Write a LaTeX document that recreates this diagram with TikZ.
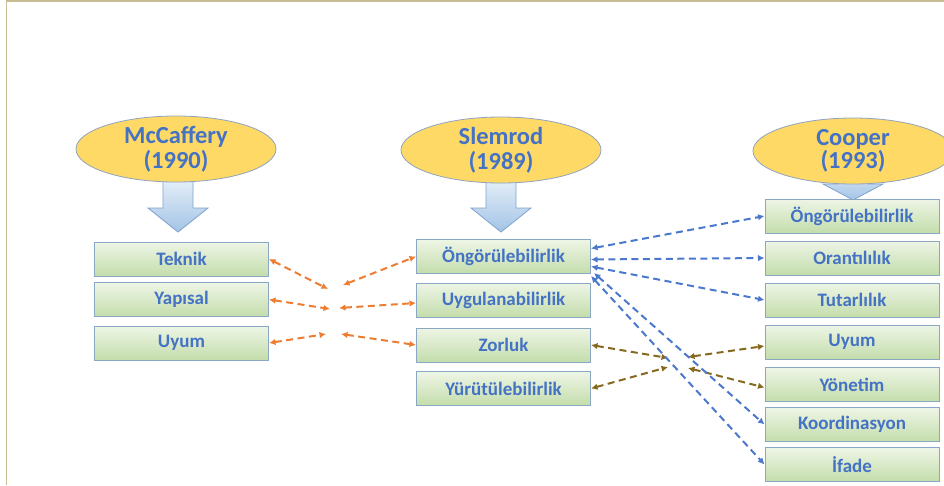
\documentclass[tikz,border=0pt]{standalone}
\usepackage{fontspec}
\setmainfont{Carlito}
\usetikzlibrary{shapes.geometric,arrows.meta}
\definecolor{txtblue}{HTML}{4472C4}
\definecolor{gold}{HTML}{FFD966}
\definecolor{ovaledge}{HTML}{8FA3BF}
\definecolor{boxtop}{HTML}{EEF5E6}
\definecolor{boxbot}{HTML}{C3DDAB}
\definecolor{boxedge}{HTML}{8AA7C4}
\definecolor{arrtop}{HTML}{E4EEF8}
\definecolor{arrbot}{HTML}{A3C4E6}
\definecolor{arredge}{HTML}{7EA3CC}
\definecolor{framecol}{HTML}{C9BD95}
\definecolor{lnorange}{HTML}{ED7D31}
\definecolor{lnblue}{HTML}{4A78CC}
\definecolor{lnbrown}{HTML}{86691E}
% wide block arrow under an author: x, top, start of head, tip
\newcommand{\blockarrow}[4]{\shade[top color=arrtop,bottom color=arrbot,draw=arredge,line width=0.8pt]
  (#1-15,#2) -- (#1+15,#2) -- (#1+15,#3) -- (#1+30,#3) -- (#1,#4) -- (#1-30,#3) -- (#1-15,#3) -- cycle;}

\begin{document}
\begin{tikzpicture}[x=1pt,y=-1pt,>={Latex[length=6.5pt,width=6.5pt]}]
\tikzstyle{author}=[ellipse,fill=gold,draw=ovaledge,line width=0.8pt,minimum width=200pt,
    minimum height=66pt,inner sep=0pt,align=center,text=txtblue,font=\bfseries\fontsize{24.5}{25}\selectfont]
\tikzstyle{crit}=[rectangle,draw=boxedge,line width=1pt,top color=boxtop,bottom color=boxbot,
    minimum width=174pt,minimum height=34pt,inner sep=0pt,text=txtblue,font=\bfseries\fontsize{19}{22}\selectfont]
\tikzstyle{link}=[<->,dash pattern=on 7pt off 4.5pt,line width=2pt]

\clip (0,0) rectangle (944,485);
\draw[framecol,line width=1.5pt] (6.5,485) -- (6.5,1) -- (944,1);

\blockarrow{178}{180}{208}{232}
\blockarrow{501}{180}{208}{232}
\blockarrow{853}{165}{184}{200}

% authors
\node[author] (mcc) at (176,149) {McCaffery\\(1990)};
\node[author] (slem) at (501,150) {Slemrod\\(1989)};
\node[author,font=\bfseries\fontsize{24.5}{19}\selectfont] (coop) at (853,151) {Cooper\\(1993)};

% McCaffery
\node[crit] (mTek) at (181.5,259) {Teknik};
\node[crit] (mYap) at (181.5,299.5) {Yapısal};
\node[crit] (mUyum) at (181.5,343) {Uyum};

% Slemrod
\node[crit] (sOng) at (503.5,256.5) {Öngörülebilirlik};
\node[crit] (sUyg) at (503.5,300) {Uygulanabilirlik};
\node[crit] (sZor) at (503.5,345) {Zorluk};
\node[crit] (sYur) at (503.5,388.5) {Yürütülebilirlik};

% Cooper
\node[crit] (cOng) at (852,216) {Öngörülebilirlik};
\node[crit] (cOra) at (852,258) {Orantılılık};
\node[crit] (cTut) at (852,300) {Tutarlılık};
\node[crit] (cUyum) at (852,342) {Uyum};
\node[crit] (cYon) at (852,384.5) {Yönetim};
\node[crit] (cKoo) at (852,424.5) {Koordinasyon};
\node[crit] (cIfa) at (852,464.5) {İfade};

% meeting points of the dashed links
\coordinate (o1) at (328,289);
\coordinate (o2) at (343,285);
\coordinate (o3) at (330,309);
\coordinate (o4) at (339,308);
\coordinate (o5) at (326,334);
\coordinate (o6) at (341,334);
\coordinate (b1) at (668,358);
\coordinate (b2) at (688,357);
\coordinate (b3) at (668,367);
\coordinate (b4) at (688,368);

\draw[link,lnorange] (mTek.east) -- (o1);
\draw[link,lnorange] (o2) -- (sOng.west);
\draw[link,lnorange] (mYap.east) -- (o3);
\draw[link,lnorange] (o4) -- ([yshift=-3pt]sUyg.west);
\draw[link,lnorange] (mUyum.east) -- (o5);
\draw[link,lnorange] (o6) -- (sZor.west);

\draw[link,lnbrown] (sZor.east) -- (b1);
\draw[link,lnbrown] (b2) -- ([yshift=-4pt]cUyum.west);
\draw[link,lnbrown] (sYur.east) -- (b3);
\draw[link,lnbrown] (b4) -- ([yshift=-3pt]cYon.west);

\draw[link,lnblue] ([yshift=8pt]sOng.east) -- (cOng.west);
\draw[link,lnblue] ([yshift=-3pt]sOng.east) -- (cOra.west);
\draw[link,lnblue] ([yshift=-10pt]sOng.east) -- (cTut.west);
\draw[link,lnblue] ([xshift=3pt,yshift=1pt]sOng.south east) -- (cKoo.west);
\draw[link,lnblue] ([yshift=-2pt]sOng.south east) -- (cIfa.west);
\end{tikzpicture}
\end{document}
